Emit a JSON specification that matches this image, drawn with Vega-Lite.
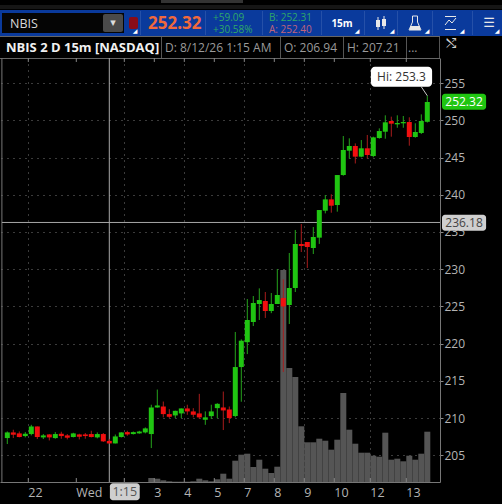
{"$schema":"https://vega.github.io/schema/vega-lite/v6.json","autosize":{"type":"none"},"padding":{"left":0,"top":58,"right":62,"bottom":22},"background":"#000000","width":440,"height":424,"config":{"view":{"stroke":null},"font":"Open Sans","axis":{"labelOverlap":false,"labelBound":false,"labelFlush":false}},
"datasets":{"candles":[
{"i":0,"open":207.32,"high":208.21,"low":206.52,"close":208.08,"volume":0,"dir":"up"},
{"i":1,"open":208.08,"high":208.44,"low":207.32,"close":207.77,"volume":0,"dir":"down"},
{"i":2,"open":207.95,"high":208.21,"low":207.41,"close":207.46,"volume":0,"dir":"down"},
{"i":3,"open":207.59,"high":208.12,"low":207.41,"close":207.9,"volume":0,"dir":"up"},
{"i":4,"open":207.86,"high":209.1,"low":207.68,"close":208.88,"volume":0,"dir":"up"},
{"i":5,"open":208.88,"high":208.88,"low":207.19,"close":207.46,"volume":0,"dir":"down"},
{"i":6,"open":207.41,"high":207.86,"low":207.19,"close":207.68,"volume":0,"dir":"up"},
{"i":7,"open":207.81,"high":207.86,"low":207.0,"close":207.41,"volume":0,"dir":"down"},
{"i":8,"open":207.32,"high":208.12,"low":207.23,"close":207.86,"volume":0,"dir":"up"},
{"i":9,"open":207.9,"high":208.17,"low":207.23,"close":207.59,"volume":0,"dir":"down"},
{"i":10,"open":207.68,"high":207.86,"low":207.14,"close":207.37,"volume":0,"dir":"down"},
{"i":11,"open":207.46,"high":208.03,"low":207.41,"close":207.95,"volume":0,"dir":"up"},
{"i":12,"open":207.81,"high":207.9,"low":207.14,"close":207.5,"volume":0,"dir":"down"},
{"i":13,"open":207.81,"high":208.0,"low":207.23,"close":207.59,"volume":0,"dir":"down"},
{"i":14,"open":207.86,"high":208.3,"low":207.41,"close":207.46,"volume":0,"dir":"down"},
{"i":15,"open":207.41,"high":208.08,"low":207.28,"close":207.86,"volume":0,"dir":"up"},
{"i":16,"open":207.86,"high":208.0,"low":206.8,"close":206.88,"volume":0,"dir":"down"},
{"i":17,"open":206.94,"high":207.21,"low":206.6,"close":206.6,"volume":0,"dir":"down"},
{"i":18,"open":206.6,"high":207.8,"low":206.6,"close":207.54,"volume":0,"dir":"up"},
{"i":19,"open":207.46,"high":208.1,"low":207.4,"close":208.08,"volume":0,"dir":"up"},
{"i":20,"open":208.12,"high":208.3,"low":207.63,"close":207.81,"volume":0,"dir":"down"},
{"i":21,"open":207.86,"high":208.2,"low":207.8,"close":208.12,"volume":0,"dir":"up"},
{"i":22,"open":207.95,"high":208.3,"low":207.9,"close":208.2,"volume":0,"dir":"up"},
{"i":23,"open":208.08,"high":208.75,"low":207.95,"close":208.62,"volume":0,"dir":"up"},
{"i":24,"open":207.86,"high":211.8,"low":205.98,"close":211.43,"volume":4,"dir":"up"},
{"i":25,"open":211.43,"high":213.84,"low":211.4,"close":211.7,"volume":3.3,"dir":"up"},
{"i":26,"open":211.56,"high":212.23,"low":210.1,"close":210.54,"volume":1.7,"dir":"down"},
{"i":27,"open":210.54,"high":211.2,"low":210.0,"close":210.18,"volume":0.7,"dir":"down"},
{"i":28,"open":210.36,"high":211.0,"low":210.0,"close":210.98,"volume":0.3,"dir":"up"},
{"i":29,"open":210.63,"high":211.3,"low":210.0,"close":211.3,"volume":0.3,"dir":"up"},
{"i":30,"open":211.3,"high":211.8,"low":210.45,"close":210.9,"volume":0.3,"dir":"down"},
{"i":31,"open":210.9,"high":211.34,"low":210.1,"close":210.45,"volume":0.7,"dir":"down"},
{"i":32,"open":210.63,"high":213.26,"low":209.9,"close":210.1,"volume":3.3,"dir":"down"},
{"i":33,"open":209.78,"high":210.9,"low":209.1,"close":210.1,"volume":1.7,"dir":"up"},
{"i":34,"open":210.27,"high":211.8,"low":209.9,"close":210.9,"volume":0.7,"dir":"up"},
{"i":35,"open":211.34,"high":212.0,"low":210.0,"close":211.92,"volume":2.7,"dir":"up"},
{"i":36,"open":211.43,"high":213.57,"low":208.4,"close":211.03,"volume":8.3,"dir":"down"},
{"i":37,"open":211.16,"high":211.56,"low":209.33,"close":210.0,"volume":3.3,"dir":"down"},
{"i":38,"open":210.28,"high":221.57,"low":210.1,"close":216.86,"volume":21.3,"dir":"up"},
{"i":39,"open":216.86,"high":220.58,"low":212.2,"close":220.4,"volume":27.3,"dir":"up"},
{"i":40,"open":220.2,"high":226.0,"low":218.6,"close":223.18,"volume":28.3,"dir":"up"},
{"i":41,"open":222.91,"high":226.4,"low":222.37,"close":225.46,"volume":15,"dir":"up"},
{"i":42,"open":225.33,"high":227.43,"low":223.18,"close":225.86,"volume":22.3,"dir":"up"},
{"i":43,"open":225.73,"high":226.94,"low":223.45,"close":224.39,"volume":13.3,"dir":"down"},
{"i":44,"open":224.39,"high":226.8,"low":224.1,"close":225.33,"volume":9,"dir":"up"},
{"i":45,"open":225.33,"high":230.03,"low":225.33,"close":226.54,"volume":15.3,"dir":"up"},
{"i":46,"open":226.13,"high":228.64,"low":216.2,"close":225.0,"volume":212,"dir":"down"},
{"i":47,"open":225.19,"high":232.18,"low":222.64,"close":227.48,"volume":114,"dir":"up"},
{"i":48,"open":227.48,"high":235.27,"low":226.94,"close":233.39,"volume":105,"dir":"up"},
{"i":49,"open":233.39,"high":236.07,"low":232.31,"close":233.12,"volume":55.7,"dir":"down"},
{"i":50,"open":233.66,"high":233.66,"low":230.16,"close":232.98,"volume":39.7,"dir":"down"},
{"i":51,"open":232.85,"high":235.67,"low":232.04,"close":234.33,"volume":39.7,"dir":"up"},
{"i":52,"open":234.24,"high":237.95,"low":233.4,"close":237.95,"volume":43.3,"dir":"up"},
{"i":53,"open":237.86,"high":239.97,"low":237.5,"close":239.38,"volume":41.3,"dir":"up"},
{"i":54,"open":239.38,"high":240.06,"low":237.59,"close":238.53,"volume":32.3,"dir":"down"},
{"i":55,"open":238.62,"high":242.65,"low":237.73,"close":242.65,"volume":42.3,"dir":"up"},
{"i":56,"open":242.65,"high":247.89,"low":242.56,"close":246.01,"volume":89,"dir":"up"},
{"i":57,"open":245.92,"high":247.58,"low":244.85,"close":246.55,"volume":52.3,"dir":"up"},
{"i":58,"open":246.55,"high":246.9,"low":244.2,"close":245.12,"volume":38.3,"dir":"down"},
{"i":59,"open":245.12,"high":247.35,"low":245.03,"close":246.24,"volume":29.3,"dir":"up"},
{"i":60,"open":246.24,"high":248.03,"low":244.85,"close":245.34,"volume":29.3,"dir":"down"},
{"i":61,"open":245.2,"high":247.8,"low":245.03,"close":247.71,"volume":26.3,"dir":"up"},
{"i":62,"open":247.62,"high":248.92,"low":247.53,"close":248.56,"volume":25.3,"dir":"up"},
{"i":63,"open":248.47,"high":250.67,"low":247.53,"close":249.73,"volume":49.3,"dir":"up"},
{"i":64,"open":249.91,"high":250.49,"low":247.8,"close":249.55,"volume":22.3,"dir":"down"},
{"i":65,"open":249.46,"high":250.67,"low":249.0,"close":249.64,"volume":23.3,"dir":"up"},
{"i":66,"open":249.6,"high":250.58,"low":249.0,"close":249.77,"volume":20.7,"dir":"up"},
{"i":67,"open":249.77,"high":250.4,"low":246.59,"close":247.76,"volume":26.3,"dir":"down"},
{"i":68,"open":247.76,"high":249.6,"low":247.67,"close":248.43,"volume":22.3,"dir":"up"},
{"i":69,"open":248.3,"high":250.8,"low":248.16,"close":249.91,"volume":28.3,"dir":"up"},
{"i":70,"open":249.8,"high":253.3,"low":249.7,"close":252.46,"volume":50.3,"dir":"up"}
],
"xticks":[{"i":3.5,"label":"22"},{"i":11.5,"label":"Wed"},{"i":19.5,"label":""},{"i":24.5,"label":"3"},{"i":29.5,"label":"4"},{"i":34.5,"label":"5"},{"i":39.5,"label":"7"},{"i":44.5,"label":"8"},{"i":49.5,"label":"9"},{"i":54.5,"label":"10"},{"i":60.5,"label":"12"},{"i":66.5,"label":"13"}]},
"resolve":{"scale":{"x":"independent","y":"independent"},"axis":{"x":"independent","y":"independent"}},
"layer":[
{
"encoding":{"x":{"field":"px","type":"quantitative","scale":{"domain":[0,440],"nice":false,"zero":false},"axis":null},"y":{"field":"py","type":"quantitative","scale":{"domain":[482,58],"nice":false,"zero":false},"axis":null}},
"layer":[
{"data":{"values":[{"px":0,"px2":502,"py":10,"py2":36}]},"mark":{"type":"rect","fill":"#0a3a9c"},"encoding":{"x2":{"field":"px2"},"y2":{"field":"py2"}}},
{"data":{"values":[{"px":161,"px2":243,"py":0,"py2":3}]},"mark":{"type":"rect","fill":"#333333"},"encoding":{"x2":{"field":"px2"},"y2":{"field":"py2"}}},
{"data":{"values":[{"px":0,"px2":502,"py":6},{"px":0,"px2":502,"py":8}]},"mark":{"type":"rule","stroke":"#2c2c2c","strokeWidth":1},"encoding":{"x2":{"field":"px2"}}},
{"data":{"values":[{"px":2,"px2":124,"py":13,"py2":33}]},"mark":{"type":"rect","fill":"#050505"},"encoding":{"x2":{"field":"px2"},"y2":{"field":"py2"}}},
{"data":{"values":[{"px":103,"px2":123,"py":14,"py2":32}]},"mark":{"type":"rect","fill":"#4a4a4a","cornerRadius":2},"encoding":{"x2":{"field":"px2"},"y2":{"field":"py2"}}},
{"data":{"values":[{"px":129,"px2":138,"py":17,"py2":29}]},"mark":{"type":"rect","fill":"#8a0c18","cornerRadius":2},"encoding":{"x2":{"field":"px2"},"y2":{"field":"py2"}}},
{"data":{"values":[{"px":140.5,"py":11,"py2":35},{"px":205.5,"py":11,"py2":35},{"px":262.5,"py":11,"py2":35},{"px":321.5,"py":11,"py2":35},{"px":364.5,"py":11,"py2":35},{"px":397.5,"py":11,"py2":35},{"px":432.5,"py":11,"py2":35},{"px":472.5,"py":11,"py2":35}]},"mark":{"type":"rule","stroke":"#2550a8","strokeWidth":1},"encoding":{"y2":{"field":"py2"}}},
{"data":{"values":[{"px":161.5,"py":37,"py2":58},{"px":280.5,"py":37,"py2":58},{"px":343.5,"py":37,"py2":58},{"px":406.5,"py":37,"py2":58},{"px":439.5,"py":37,"py2":58}]},"mark":{"type":"rule","stroke":"#555555","strokeWidth":1},"encoding":{"y2":{"field":"py2"}}},
{"data":{"values":[{"px":0,"px2":440,"py":36.5},{"px":0,"px2":440,"py":58.5}]},"mark":{"type":"rule","stroke":"#666666","strokeWidth":1},"encoding":{"x2":{"field":"px2"}}},
{"data":{"values":[{"px":135,"py":31,"t":"◢"},{"px":357,"py":31,"t":"◢"},{"px":392,"py":31,"t":"◢"},{"px":427,"py":31,"t":"◢"},{"px":462,"py":31,"t":"◢"},{"px":497,"py":31,"t":"◢"}]},"mark":{"type":"text","font":"DejaVu Sans","fontSize":6,"fill":"#ffffff","baseline":"middle","align":"center"},"encoding":{"text":{"field":"t"}}},
{"data":{"values":[{"px":113,"py":23,"t":"▾"}]},"mark":{"type":"text","font":"DejaVu Sans","fontSize":11,"fill":"#dddddd","baseline":"middle","align":"center"},"encoding":{"text":{"field":"t"}}},
{"data":{"values":[{"px":10,"py":23.5,"t":"NBIS"}]},"mark":{"type":"text","fontSize":12.5,"fill":"#d8d8d8","baseline":"middle","align":"left"},"encoding":{"text":{"field":"t"}}},
{"data":{"values":[{"px":148,"py":24,"t":"252.32"}]},"mark":{"type":"text","fontSize":17,"fontWeight":"bold","fill":"#f0693c","baseline":"middle","align":"left"},"encoding":{"text":{"field":"t"}}},
{"data":{"values":[{"px":213,"py":17.5,"t":"+59.09"},{"px":213,"py":30,"t":"+30.58%"},{"px":269,"py":17.5,"t":"B: 252.31"}]},"mark":{"type":"text","fontSize":10,"fill":"#2fa868","baseline":"middle","align":"left"},"encoding":{"text":{"field":"t"}}},
{"data":{"values":[{"px":269,"py":30,"t":"A: 252.40"}]},"mark":{"type":"text","fontSize":10,"fill":"#c0647c","baseline":"middle","align":"left"},"encoding":{"text":{"field":"t"}}},
{"data":{"values":[{"px":342,"py":23.5,"t":"15m"}]},"mark":{"type":"text","fontSize":10,"fontWeight":"bold","fill":"#ffffff","baseline":"middle","align":"center"},"encoding":{"text":{"field":"t"}}},
{"data":{"values":[{"px":376,"px2":380,"py":20,"py2":27},{"px":382,"px2":386,"py":19,"py2":26}]},"mark":{"type":"rect","fill":"#e8e8e8"},"encoding":{"x2":{"field":"px2"},"y2":{"field":"py2"}}},
{"data":{"values":[{"px":378,"py":17,"py2":30},{"px":384,"py":16,"py2":29}]},"mark":{"type":"rule","stroke":"#e8e8e8","strokeWidth":1},"encoding":{"y2":{"field":"py2"}}},
{"data":{"values":[{"px":410,"px2":420,"py":26,"py2":30}]},"mark":{"type":"rect","fill":"#e8e8e8"},"encoding":{"x2":{"field":"px2"},"y2":{"field":"py2"}}},
{"data":{"values":[{"px":412.5,"py":16,"k":1},{"px":412.5,"py":22,"k":2},{"px":409,"py":30,"k":3},{"px":421,"py":30,"k":4},{"px":417.5,"py":22,"k":5},{"px":417.5,"py":16,"k":6},{"px":412.5,"py":16,"k":7}]},"mark":{"type":"line","stroke":"#e8e8e8","strokeWidth":1},"encoding":{"order":{"field":"k"}}},
{"data":{"values":[{"px":489,"py":23,"t":"☰"}]},"mark":{"type":"text","font":"DejaVu Sans","fontSize":13,"fill":"#e8e8e8","baseline":"middle","align":"center"},"encoding":{"text":{"field":"t"}}},
{"data":{"values":[{"px":445,"px2":456,"py":16.5},{"px":445,"px2":456,"py":29.5}]},"mark":{"type":"rule","stroke":"#e8e8e8","strokeWidth":1},"encoding":{"x2":{"field":"px2"}}},
{"data":{"values":[{"px":445,"py":25,"k":1},{"px":449,"py":20,"k":2},{"px":452,"py":23,"k":3},{"px":456,"py":18,"k":4}]},"mark":{"type":"line","stroke":"#e8e8e8","strokeWidth":1},"encoding":{"order":{"field":"k"}}},
{"data":{"values":[{"px":6,"py":47.5,"t":"NBIS 2 D 15m [NASDAQ]"}]},"mark":{"type":"text","fontSize":13,"fontWeight":"bold","fill":"#f0f0f0","baseline":"middle","align":"left"},"encoding":{"text":{"field":"t"}}},
{"data":{"values":[{"px":165,"py":47.5,"t":"D: 8/12/26 1:15 AM"},{"px":284,"py":47.5,"t":"O: 206.94"},{"px":347,"py":47.5,"t":"H: 207.21"},{"px":408,"py":47.5,"t":"..."}]},"mark":{"type":"text","fontSize":12,"fill":"#9a9a9a","baseline":"middle","align":"left"},"encoding":{"text":{"field":"t"}}},
{"data":{"values":[{"px":451,"py":44,"t":"⤭"}]},"mark":{"type":"text","font":"DejaVu Sans","fontSize":13,"fill":"#d0d0d0","baseline":"middle","align":"center"},"encoding":{"text":{"field":"t"}}}
]},
{
"resolve":{"scale":{"y":"independent"}},
"layer":[
{"data":{"name":"candles"},"mark":{"type":"bar","width":6,"fill":"#555555"},"encoding":{
"x":{"field":"i","type":"quantitative","scale":{"domain":[-1.217,72.117],"nice":false,"zero":false,"padding":0},"axis":{"values":[3.5,11.5,19.5,24.5,29.5,34.5,39.5,44.5,49.5,54.5,60.5,66.5],"labels":false,"title":null,"grid":true,"gridColor":"#777777","gridDash":[1,5],"gridWidth":1,"ticks":false,"domain":true,"domainColor":"#777777"}},
"y":{"field":"volume","type":"quantitative","scale":{"domain":[0,424],"nice":false,"zero":false},"axis":null}}},
{"layer":[
{"data":{"name":"xticks"},"mark":{"type":"rule","stroke":"#888888","strokeWidth":1},"encoding":{"x":{"field":"i","type":"quantitative"},"y":{"datum":201.42,"type":"quantitative"},"y2":{"datum":201.95}}},
{"data":{"name":"xticks"},"mark":{"type":"rule","stroke":"#888888","strokeWidth":1},"encoding":{"x":{"field":"i","type":"quantitative"},"y":{"datum":258.37,"type":"quantitative"},"y2":{"datum":257.84}}},
{"data":{"values":[{"i":-0.9}]},"mark":{"type":"rule","stroke":"#777777","strokeWidth":1},"encoding":{"x":{"field":"i","type":"quantitative"},"y":{"datum":201.42,"type":"quantitative"},"y2":{"datum":258.37}}},
{"data":{"values":[{"i":17,"label":"crosshair"}]},"mark":{"type":"rule","stroke":"#a8a8a8","strokeWidth":1},"encoding":{"x":{"field":"i","type":"quantitative"},"y":{"datum":201.42,"type":"quantitative"},"y2":{"datum":258.37}}},
{"data":{"values":[{"price":236.28,"from":-0.9,"to":72.117}]},"mark":{"type":"rule","stroke":"#a8a8a8","strokeWidth":1},"encoding":{"x":{"field":"from","type":"quantitative"},"x2":{"field":"to"},"y":{"field":"price","type":"quantitative"}}},
{"data":{"name":"candles"},"mark":{"type":"rule","strokeWidth":1},"encoding":{"x":{"field":"i","type":"quantitative"},"y":{"field":"low","type":"quantitative","scale":{"domain":[201.42,258.37],"nice":false,"zero":false},"axis":{"orient":"right","values":[205,210,215,220,225,230,235,240,245,250,255],"title":null,"grid":true,"gridColor":"#777777","gridDash":[1,5],"gridWidth":1,"tickColor":"#888888","tickSize":3,"domain":true,"domainColor":"#777777","labelColor":"#b4b4b4","labelFontSize":12,"labelFont":"Open Sans","labelPadding":1}},"y2":{"field":"high"},"stroke":{"field":"dir","type":"nominal","scale":{"domain":["up","down"],"range":["#25a31c","#a81c1c"]},"legend":null}}},
{"data":{"name":"candles"},"mark":{"type":"bar","width":5},"encoding":{"x":{"field":"i","type":"quantitative"},"y":{"field":"open","type":"quantitative"},"y2":{"field":"close"},"fill":{"field":"dir","type":"nominal","scale":{"domain":["up","down"],"range":["#20c512","#f20f0f"]},"legend":null}}},
{"data":{"name":"xticks"},"mark":{"type":"text","fontSize":12.5,"fill":"#b4b4b4","baseline":"middle","align":"left"},"encoding":{"x":{"field":"i","type":"quantitative"},"y":{"datum":199.94,"type":"quantitative"},"text":{"field":"label"}}},
{"data":{"values":[{"i":69,"i2":70,"p":254.5,"p2":253.3}]},"mark":{"type":"rule","stroke":"#c8c8c8","strokeWidth":1},"encoding":{"x":{"field":"i","type":"quantitative"},"x2":{"field":"i2"},"y":{"field":"p","type":"quantitative"},"y2":{"field":"p2"}}},
{"data":{"values":[{"a":60.6,"b":70.8,"p":254.5,"p2":257.2}]},"mark":{"type":"rect","fill":"#ffffff","cornerRadius":4},"encoding":{"x":{"field":"a","type":"quantitative"},"x2":{"field":"b"},"y":{"field":"p","type":"quantitative"},"y2":{"field":"p2"}}},
{"data":{"values":[{"a":72.45,"b":79.8,"p":251.42,"p2":253.57}]},"mark":{"type":"rect","fill":"#20c512","cornerRadius":3},"encoding":{"x":{"field":"a","type":"quantitative"},"x2":{"field":"b"},"y":{"field":"p","type":"quantitative"},"y2":{"field":"p2"}}},
{"data":{"values":[{"a":72.45,"b":79.8,"p":235.17,"p2":237.3}]},"mark":{"type":"rect","fill":"#cfcfcf","cornerRadius":3},"encoding":{"x":{"field":"a","type":"quantitative"},"x2":{"field":"b"},"y":{"field":"p","type":"quantitative"},"y2":{"field":"p2"}}},
{"data":{"values":[{"a":17.1,"b":22.07,"p":198.96,"p2":201.24}]},"mark":{"type":"rect","fill":"#cfcfcf","cornerRadius":3},"encoding":{"x":{"field":"a","type":"quantitative"},"x2":{"field":"b"},"y":{"field":"p","type":"quantitative"},"y2":{"field":"p2"}}},
{"data":{"values":[{"a":65.7,"p":255.85,"t":"Hi: 253.3"}]},"mark":{"type":"text","fontSize":12,"fill":"#333333","baseline":"middle","align":"center"},"encoding":{"x":{"field":"a","type":"quantitative"},"y":{"field":"p","type":"quantitative"},"text":{"field":"t"}}},
{"data":{"values":[{"a":76.12,"p":252.5,"t":"252.32"}]},"mark":{"type":"text","fontSize":12,"fill":"#ffffff","baseline":"middle","align":"center"},"encoding":{"x":{"field":"a","type":"quantitative"},"y":{"field":"p","type":"quantitative"},"text":{"field":"t"}}},
{"data":{"values":[{"a":76.12,"p":236.23,"t":"236.18"}]},"mark":{"type":"text","fontSize":12,"fill":"#444444","baseline":"middle","align":"center"},"encoding":{"x":{"field":"a","type":"quantitative"},"y":{"field":"p","type":"quantitative"},"text":{"field":"t"}}},
{"data":{"values":[{"a":19.58,"p":200.1,"t":"1:15"}]},"mark":{"type":"text","fontSize":12.5,"fill":"#555555","baseline":"middle","align":"center"},"encoding":{"x":{"field":"a","type":"quantitative"},"y":{"field":"p","type":"quantitative"},"text":{"field":"t"}}}
]}
]}
]}
